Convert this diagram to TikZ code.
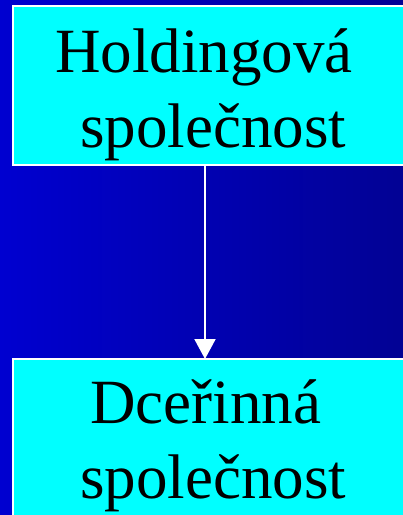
\documentclass[tikz,border=0pt]{standalone}
\usepackage{fontspec}
\setmainfont{Liberation Serif}
\usetikzlibrary{arrows.meta,positioning}
\definecolor{bgleft}{RGB}{0,0,208}
\definecolor{bgright}{RGB}{2,2,148}
\definecolor{boxcyan}{RGB}{0,255,255}
\tikzset{
  orgbox/.style={draw=white, line width=2pt, fill=boxcyan},
  boxtext/.style={anchor=base west, inner sep=0pt, font=\fontsize{63}{73}\selectfont, text=black},
  link/.style={draw=white, line width=2pt, -{Triangle[width=21pt,length=20pt]}}
}
\begin{document}
\begin{tikzpicture}[x=1pt,y=-1pt]
\useasboundingbox (0,0) rectangle (403,515);
\clip (0,0) rectangle (403,515);
\shade[left color=bgleft, right color=bgright] (0,0) rectangle (403,515);
\path[orgbox] (13,6) rectangle (420,165);
\path[orgbox] (13,359) rectangle (420,530);
\coordinate (topS) at (205,165);
\coordinate (botN) at (205,359);
\node[boxtext] (t1) at (55,72) {Holdingová};
\node[boxtext] (t2) at (80,147) {společnost};
\node[boxtext] (b1) at (90,423) {Dceřinná};
\node[boxtext] (b2) at (80,498) {společnost};
\draw[link] (topS) -- (botN);
\end{tikzpicture}
\end{document}
